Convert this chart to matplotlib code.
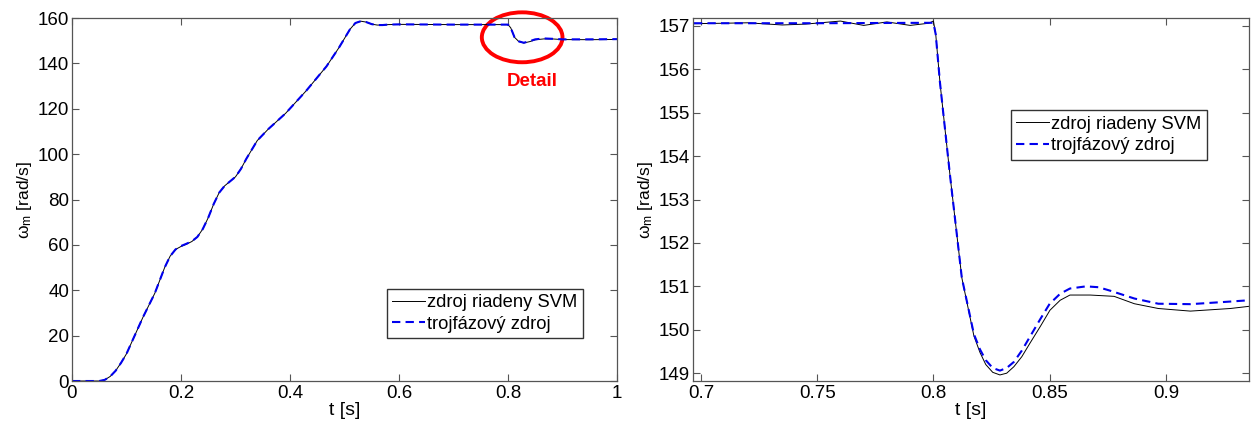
import numpy as np
import matplotlib.pyplot as plt
from matplotlib.patches import Ellipse

plt.rcParams["font.family"] = ["Liberation Sans", "DejaVu Sans"]
plt.rcParams["mathtext.fontset"] = "custom"
plt.rcParams["mathtext.rm"] = "Liberation Sans"
plt.rcParams["mathtext.it"] = "Liberation Sans"

# full run-up (left panel)
t_full = [0.0, 0.03, 0.05, 0.06, 0.07, 0.08, 0.09, 0.1, 0.115, 0.13, 0.152, 0.17,
          0.18, 0.19, 0.2, 0.21, 0.22, 0.23, 0.24, 0.25, 0.26, 0.27, 0.28, 0.29,
          0.3, 0.31, 0.32, 0.33, 0.34, 0.36, 0.392, 0.43, 0.467, 0.49, 0.5, 0.51,
          0.52, 0.53, 0.54, 0.55, 0.56, 0.57, 0.58, 0.6, 0.7, 0.8, 0.805, 0.812,
          0.82, 0.829, 0.84, 0.85, 0.866, 0.88, 0.9, 0.95, 1.0]
w_svm_full = [0.0, 0.0, 0.0, 0.5, 2.0, 4.5, 8.0, 12.0, 20.0, 28.0, 38.7, 50.0,
              55.0, 58.0, 59.3, 60.3, 61.5, 63.5, 67.0, 72.0, 78.0, 83.0, 86.0, 88.0,
              90.0, 93.5, 98.0, 102.0, 106.0, 111.0, 118.0, 128.0, 138.7, 147.0, 151.0, 155.0,
              157.8, 158.6, 158.2, 157.3, 156.9, 156.9, 157.1, 157.2, 157.1, 157.1, 155.7, 151.5,
              149.6, 149.0, 149.6, 150.4, 150.8, 150.8, 150.5, 150.45, 150.55]
w_3f_full = [0.0, 0.0, 0.0, 0.5, 2.0, 4.5, 8.0, 12.0, 20.0, 28.0, 38.7, 50.0,
             55.0, 58.0, 59.5, 60.5, 61.6, 63.5, 67.0, 72.0, 78.0, 83.0, 86.0, 88.0,
             90.0, 93.5, 98.0, 102.0, 106.0, 111.0, 118.0, 128.0, 138.7, 147.0, 151.0, 155.0,
             157.8, 158.6, 158.2, 157.3, 156.9, 156.9, 157.1, 157.2, 157.1, 157.1, 155.7, 151.5,
             149.7, 149.1, 149.8, 150.6, 151.0, 150.85, 150.6, 150.6, 150.7]

# detail around the load step (right panel)
t_svm = [0.697, 0.71, 0.72, 0.735, 0.745, 0.76, 0.77, 0.78, 0.79, 0.798, 0.8, 0.801,
         0.8028, 0.8071, 0.8122, 0.8174, 0.82, 0.8225, 0.8255, 0.8286, 0.8315,
         0.8346, 0.838, 0.8415, 0.846, 0.8501, 0.8545, 0.8587, 0.8674, 0.8777,
         0.8864, 0.8967, 0.9105, 0.9277, 0.9357]
w_svm = [157.05, 157.06, 157.07, 157.02, 157.04, 157.11, 157.01, 157.09, 157.01, 157.06, 157.11, 156.8,
         155.7, 153.57, 151.2, 149.86, 149.48, 149.2, 149.02, 148.96, 149.0,
         149.15, 149.38, 149.69, 150.08, 150.45, 150.68, 150.8, 150.8, 150.77,
         150.6, 150.49, 150.43, 150.49, 150.54]
t_3f = [0.697, 0.75, 0.8, 0.801, 0.8028, 0.8071, 0.8122, 0.8174, 0.82, 0.8225, 0.8255,
        0.8286, 0.8315, 0.8346, 0.838, 0.8415, 0.846, 0.85, 0.8545, 0.8587, 0.8656,
        0.871, 0.876, 0.8864, 0.8967, 0.9105, 0.9277, 0.9357]
w_3f = [157.06, 157.06, 157.07, 156.8, 155.7, 153.57, 151.2, 149.9, 149.55, 149.3, 149.12,
        149.06, 149.12, 149.26, 149.52, 149.84, 150.25, 150.6, 150.83, 150.95, 151.0,
        150.98, 150.9, 150.72, 150.6, 150.59, 150.65, 150.68]

labels = ["zdroj riadeny SVM", "trojfázový zdroj"]

fig = plt.figure(figsize=(12.52, 4.25), dpi=100)
ax1 = fig.add_axes([0.0575, 0.1035, 0.4353, 0.8541])
ax2 = fig.add_axes([0.5535, 0.1035, 0.4441, 0.8541])

for ax in (ax1, ax2):
    ax.tick_params(direction="in", top=True, right=True, length=5, labelsize=13.5,
                   color="#555555", pad=2)
    ax.tick_params(axis="x", pad=3)
    for s in ax.spines.values():
        s.set_color("#555555")
        s.set_linewidth(0.9)
    ax.set_xlabel("t [s]", fontsize=14, labelpad=0)
    ax.set_ylabel(r"$\omega_m$ [rad/s]", fontsize=12.5, labelpad=3)

ax1.plot(t_full, w_svm_full, color="black", lw=0.7, label=labels[0])
ax1.plot(t_full, w_3f_full, color="#0000ee", lw=1.5, ls=(0, (4, 2.5)), label=labels[1])
ax1.set_xlim(0, 1)
ax1.set_ylim(0, 160)
ax1.set_xticks([0, 0.2, 0.4, 0.6, 0.8, 1])
ax1.set_xticklabels(["0", "0.2", "0.4", "0.6", "0.8", "1"])
ax1.set_yticks(range(0, 161, 20))
ax1.legend(loc="lower right", bbox_to_anchor=(0.9376, 0.118), fontsize=13.2,
           fancybox=False, edgecolor="#333333", framealpha=1, handlelength=1.8,
           handletextpad=0.1, borderpad=0.3, labelspacing=0.25, borderaxespad=0)
ax1.add_patch(Ellipse((0.826, 151.5), 0.148, 22, fill=False, edgecolor="red", lw=2.8,
                      clip_on=False))
ax1.text(0.844, 131.8, "Detail", color="red", fontsize=13.5, fontweight="bold",
         ha="center", va="center")

ax2.plot(t_svm, w_svm, color="black", lw=0.7, label=labels[0])
ax2.plot(t_3f, w_3f, color="#0000ee", lw=1.5, ls=(0, (4, 2.5)), label=labels[1])
ax2.set_xlim(0.6966, 0.9357)
ax2.set_ylim(148.82, 157.18)
ax2.set_xticks([0.7, 0.75, 0.8, 0.85, 0.9])
ax2.set_xticklabels(["0.7", "0.75", "0.8", "0.85", "0.9"])
ax2.set_yticks(range(149, 158))
ax2.legend(loc="upper right", bbox_to_anchor=(0.924, 0.7466), fontsize=13.2,
           fancybox=False, edgecolor="#333333", framealpha=1, handlelength=1.8,
           handletextpad=0.1, borderpad=0.3, labelspacing=0.25, borderaxespad=0)

fig.savefig("out.png", dpi=100)
